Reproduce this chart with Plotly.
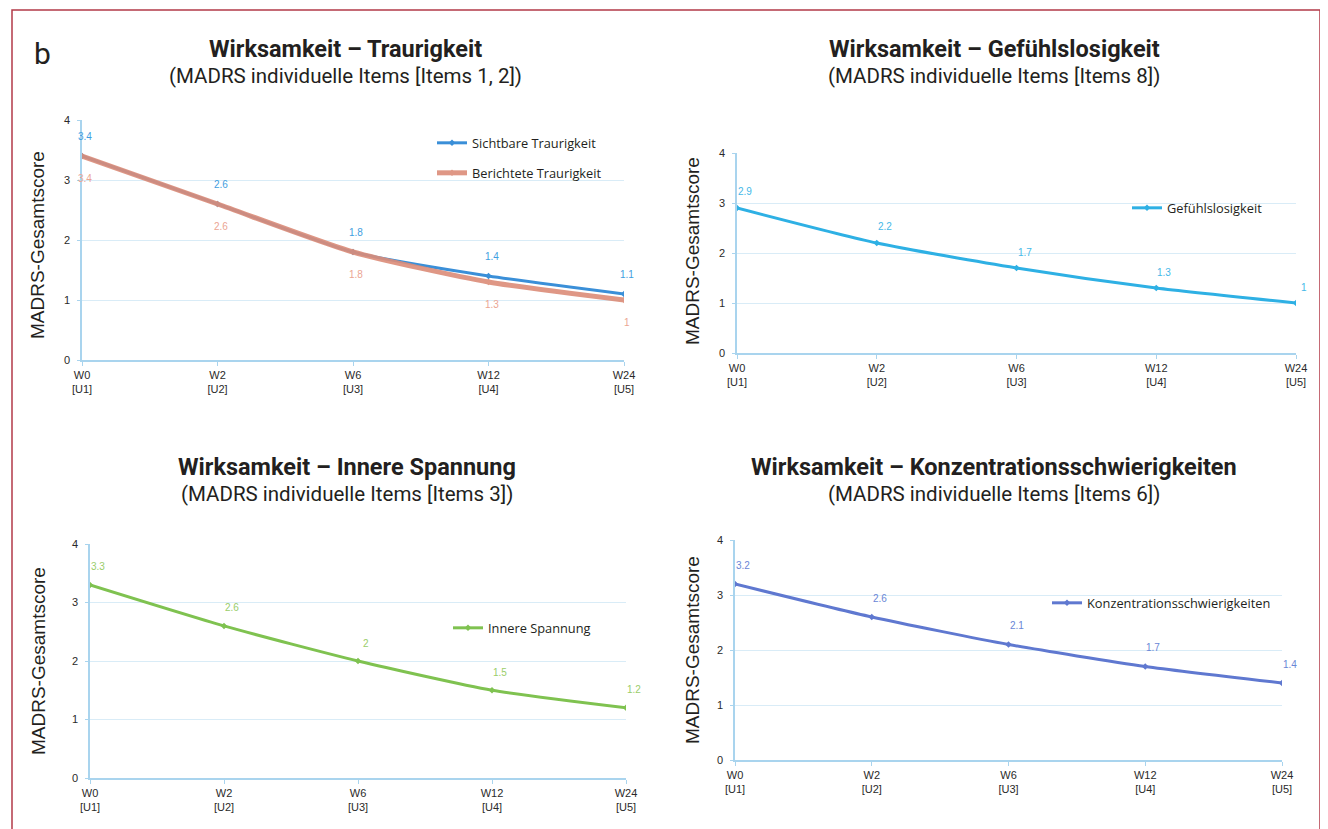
import plotly.graph_objects as go

# page body has an 8px margin, so the figure is drawn 8px in and slightly smaller
OFF = 8
W, H = 1328 - OFF, 829 - OFF

categories = ["W0<br>[U1]", "W2<br>[U2]", "W6<br>[U3]", "W12<br>[U4]", "W24<br>[U5]"]
y_ticks = [0, 1, 2, 3, 4]

sichtbare = [3.4, 2.6, 1.8, 1.4, 1.1]
berichtete = [3.4, 2.6, 1.8, 1.3, 1.0]
gefuehllos = [2.9, 2.2, 1.7, 1.3, 1.0]
innere = [3.3, 2.6, 2.0, 1.5, 1.2]
konzentration = [3.2, 2.6, 2.1, 1.7, 1.4]

titles = [
    ("Wirksamkeit – Traurigkeit", "(MADRS individuelle Items [Items 1, 2])"),
    ("Wirksamkeit – Gefühlslosigkeit", "(MADRS individuelle Items [Items 8])"),
    ("Wirksamkeit – Innere Spannung", "(MADRS individuelle Items [Items 3])"),
    ("Wirksamkeit – Konzentrationsschwierigkeiten", "(MADRS individuelle Items [Items 6])"),
]


def px_x(p):
    return (p - OFF) / W


def px_y(p):
    return 1 - (p - OFF) / H


xi = list(range(len(categories)))

# panel pixel boxes (screen px): (x_left, x_right, y_zero, y_four)
panels = [
    (82, 624, 360, 120),
    (737, 1296, 353, 153),
    (90, 626, 778, 544),
    (735, 1282, 760, 540),
]

fig = go.Figure()

series = [
    # name, data, panel, color, width, label color, yshift, xshift, legend, opacity
    ("Sichtbare Traurigkeit", sichtbare, 0, "#3a8fd8", 3, "#3f9ee0", 20, 3, "legend", 1.0),
    ("Berichtete Traurigkeit", berichtete, 0, "#dc8c78", 5, "#eba593", -22, 3, "legend2", 0.9),
    ("Gefühlslosigkeit", gefuehllos, 1, "#2eb0e4", 3, "#45b8e8", 16, 8, "legend3", 1.0),
    ("Innere Spannung", innere, 2, "#7fc250", 3, "#9acd6a", 18, 8, "legend4", 1.0),
    ("Konzentrationsschwierigkeiten", konzentration, 3, "#5f78d0", 3, "#6a86d6", 19, 8, "legend5", 1.0),
]

annotations = []
for name, data, p, color, width, lcolor, ys, xs, leg, op in series:
    ax = "" if p == 0 else str(p + 1)
    fig.add_trace(go.Scatter(
        x=xi, y=data, name=name, mode="lines+markers",
        line=dict(color=color, width=width, shape="spline", smoothing=0.6),
        marker=dict(color=color, size=5, symbol="diamond"),
        opacity=op,
        xaxis="x" + ax, yaxis="y" + ax, legend=leg, showlegend=True,
    ))
    for xv, yv in zip(xi, data):
        annotations.append(dict(
            x=xv, y=yv, xref="x" + ax, yref="y" + ax,
            text=("%g" % yv), showarrow=False, yshift=ys, xshift=xs,
            xanchor="center", yanchor="middle",
            font=dict(family="Liberation Sans", size=10, color=lcolor),
        ))

layout = dict(
    width=W, height=H,
    margin=dict(l=0, r=0, t=0, b=0, pad=0, autoexpand=False),
    paper_bgcolor="white", plot_bgcolor="white",
    showlegend=True,
)

for i, (xl, xr, y0, y4) in enumerate(panels):
    s = "" if i == 0 else str(i + 1)
    layout["xaxis" + s] = dict(
        domain=[px_x(xl), px_x(xr)], range=[0, 4], anchor="y" + s,
        tickmode="array", tickvals=xi, ticktext=categories,
        showgrid=False, zeroline=False,
        showline=True, linecolor="#a9d4ee", linewidth=1.5,
        ticks="outside", ticklen=4, tickcolor="#a9d4ee",
        tickfont=dict(family="Liberation Sans", size=11, color="#2a2a2a"),
        fixedrange=True, automargin=False,
    )
    layout["yaxis" + s] = dict(
        domain=[px_y(y0), px_y(y4)], range=[0, 4], anchor="x" + s,
        tickmode="array", tickvals=y_ticks,
        showgrid=True, gridcolor="#d9ecf7", gridwidth=1.2, zeroline=False,
        showline=True, linecolor="#a9d4ee", linewidth=1.5,
        ticks="outside", ticklen=3, tickcolor="#a9d4ee", ticklabelstandoff=5,
        tickfont=dict(family="Liberation Sans", size=11, color="#2a2a2a"),
        fixedrange=True, automargin=False,
    )

# titles
title_pos = [(345, 49, 76), (994, 49, 76), (347, 467, 494), (994, 467, 494)]
for (t, sub), (cx, ty, sy) in zip(titles, title_pos):
    annotations.append(dict(x=px_x(cx), y=px_y(ty), xref="paper", yref="paper",
                            xanchor="center", yanchor="middle",
                            text="<b>" + t + "</b>", showarrow=False,
                            font=dict(family="Roboto", size=23.5, color="#231f20")))
    annotations.append(dict(x=px_x(cx), y=px_y(sy), xref="paper", yref="paper",
                            xanchor="center", yanchor="middle",
                            text=sub, showarrow=False,
                            font=dict(family="Roboto", size=20.5, color="#231f20")))

# y-axis titles
ytitle_pos = [(37, 245), (692, 251), (38, 661), (692, 650)]
for cx, cy in ytitle_pos:
    annotations.append(dict(x=px_x(cx), y=px_y(cy), xref="paper", yref="paper",
                            xanchor="center", yanchor="middle",
                            text="MADRS-Gesamtscore", textangle=-90, showarrow=False,
                            font=dict(family="Liberation Sans", size=19, color="#231f20")))

# panel letter
annotations.append(dict(x=px_x(42), y=px_y(54), xref="paper", yref="paper",
                        xanchor="center", yanchor="middle",
                        text="b", showarrow=False,
                        font=dict(family="Roboto", size=30, color="#231f20")))

layout["annotations"] = annotations

leg_font = dict(family="Open Sans", size=12.8, color="#231f20")
leg_common = dict(xanchor="left", yanchor="middle", bgcolor="rgba(0,0,0,0)",
                  font=leg_font, itemwidth=30, borderwidth=0)
layout["legend"] = dict(x=px_x(432), y=px_y(143), **leg_common)
layout["legend2"] = dict(x=px_x(432), y=px_y(173), **leg_common)
layout["legend3"] = dict(x=px_x(1127), y=px_y(208), **leg_common)
layout["legend4"] = dict(x=px_x(448), y=px_y(628), **leg_common)
layout["legend5"] = dict(x=px_x(1047), y=px_y(603), **leg_common)

layout["shapes"] = [dict(type="rect", xref="paper", yref="paper",
                         x0=px_x(12), x1=px_x(1320), y0=-0.05, y1=px_y(10),
                         line=dict(color="#b23a48", width=1.5))]

fig.update_layout(**layout)
fig.write_html("out.html")
